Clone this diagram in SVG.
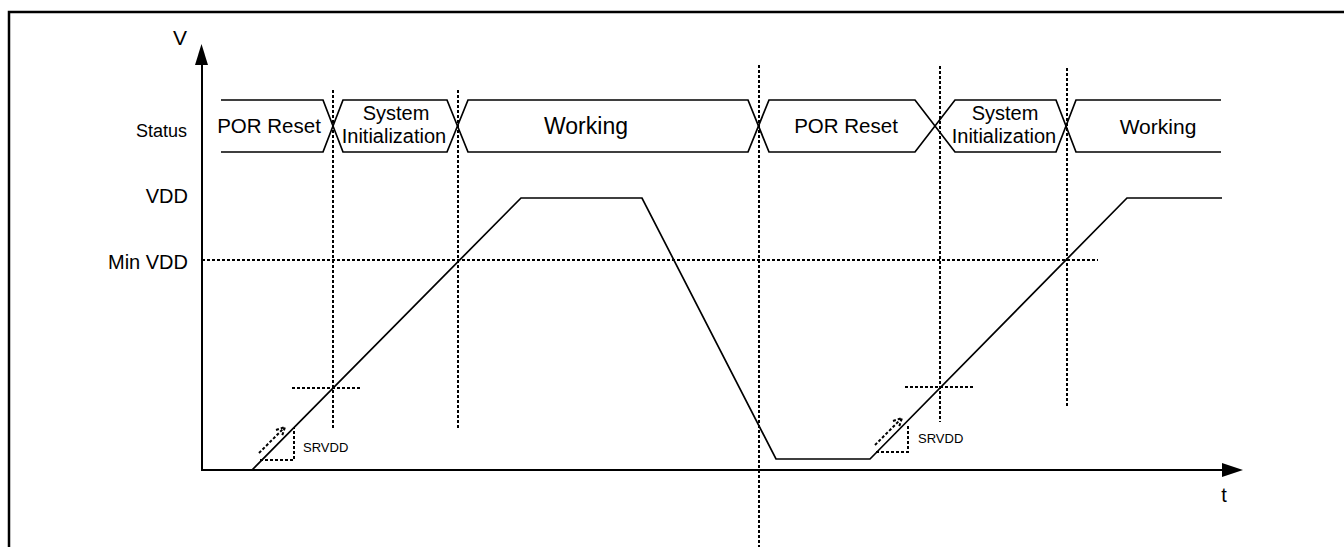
<svg xmlns="http://www.w3.org/2000/svg" width="1344" height="547" viewBox="0 0 1344 547">
<style>
.t{font-family:"Liberation Sans",Arial,sans-serif;fill:#000}
.s{fill:none;stroke:#000;stroke-width:1.7}
.d{fill:none;stroke:#000;stroke-width:2;stroke-dasharray:3 2}
</style>
<rect width="1344" height="547" fill="#fff"/>
<path d="M9,547 V12 H1344" fill="none" stroke="#000" stroke-width="2.5"/>

<g id="axes">
<line x1="202" y1="471" x2="202" y2="64" stroke="#000" stroke-width="2"/>
<path d="M195,65 L201.5,44 L208,65 Z" fill="#000"/>
<line x1="202" y1="470" x2="1223" y2="470" stroke="#000" stroke-width="2"/>
<path d="M1222,463 L1243,470 L1222,477 Z" fill="#000"/>
<text class="t" x="180" y="45" font-size="21" text-anchor="middle">V</text>
<text class="t" x="1224" y="502" font-size="20" text-anchor="middle">t</text>
</g>

<g id="labels">
<text class="t" x="187" y="137" font-size="18" text-anchor="end">Status</text>
<text class="t" x="188" y="203" font-size="20" text-anchor="end">VDD</text>
<text class="t" x="188" y="269" font-size="20" text-anchor="end">Min VDD</text>
</g>

<g id="guides">
<line class="d" x1="202" y1="260" x2="1098" y2="260"/>
<line class="d" x1="333" y1="90" x2="333" y2="428"/>
<line class="d" x1="458" y1="90" x2="458" y2="428"/>
<line class="d" x1="759" y1="65" x2="759" y2="547"/>
<line class="d" x1="940" y1="66" x2="940" y2="422"/>
<line class="d" x1="1067" y1="68" x2="1067" y2="407"/>
<line class="d" x1="292" y1="388" x2="360" y2="388"/>
<line class="d" x1="905" y1="387" x2="975" y2="387"/>
</g>

<g id="status-bus">
<path class="s" d="M221,100 H323 L343,152 H447 L468,100 H748 L769,152 H915 L955,100 H1056 L1076,152 H1221"/>
<path class="s" d="M221,152 H323 L343,100 H447 L468,152 H748 L769,100 H915 L955,152 H1056 L1076,100 H1221"/>
</g>

<g id="por-reset-1"><text class="t" x="269" y="133" font-size="20.5" text-anchor="middle">POR Reset</text></g>
<g id="sys-init-1">
<text class="t" x="396" y="120" font-size="20" text-anchor="middle">System</text>
<text class="t" x="394" y="143" font-size="20" text-anchor="middle">Initialization</text>
</g>
<g id="working-1"><text class="t" x="586" y="134" font-size="23" text-anchor="middle">Working</text></g>
<g id="por-reset-2"><text class="t" x="846" y="133" font-size="20.5" text-anchor="middle">POR Reset</text></g>
<g id="sys-init-2">
<text class="t" x="1005" y="120" font-size="20" text-anchor="middle">System</text>
<text class="t" x="1004" y="143" font-size="20" text-anchor="middle">Initialization</text>
</g>
<g id="working-2"><text class="t" x="1158" y="134" font-size="21" text-anchor="middle">Working</text></g>

<g id="vdd-curve">
<path class="s" d="M252,470 L521,198 H642 L776,459 H870 L1127,198 H1222"/>
</g>

<g id="srvdd-1">
<path class="d" d="M260,460 H294 V428"/>
<line class="d" x1="259" y1="453" x2="284" y2="428"/>
<path class="d" d="M276,430 L285,427 L282,436"/>
<text class="t" x="303" y="452" font-size="13">SRVDD</text>
</g>
<g id="srvdd-2">
<path class="d" d="M876,452 H908 V425"/>
<line class="d" x1="875" y1="445" x2="901" y2="419"/>
<path class="d" d="M893,421 L902,418 L899,427"/>
<text class="t" x="918" y="443" font-size="13">SRVDD</text>
</g>
</svg>
